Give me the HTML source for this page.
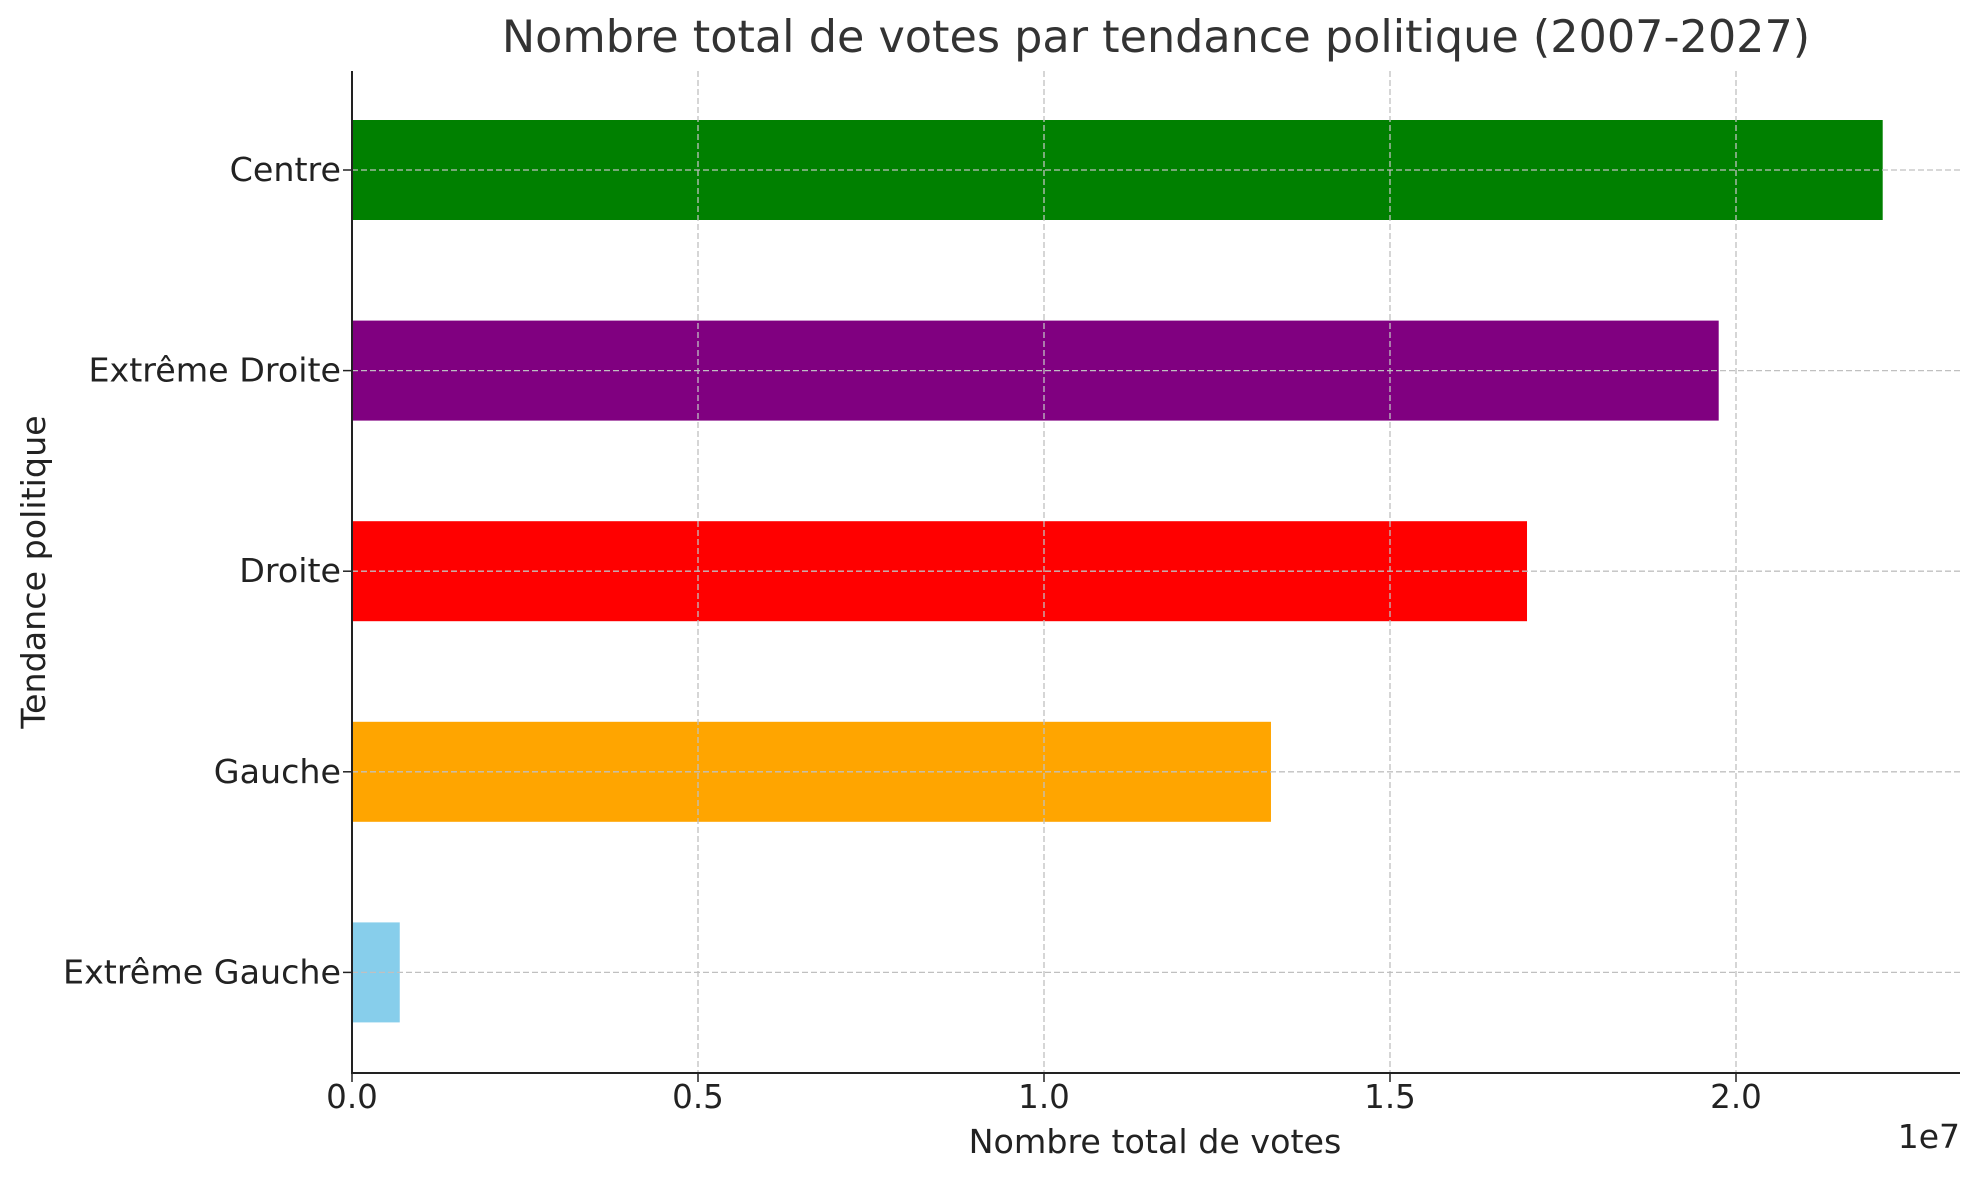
<!DOCTYPE html>
<html><head><meta charset="utf-8"><style>body{margin:0;background:#fff}svg{display:block;font-family:"DejaVu Sans","Liberation Sans",sans-serif}</style></head>
<body>
<svg id="chart" width="1979" height="1180" xmlns="http://www.w3.org/2000/svg">
<text x="1156" y="52" font-size="44.5" fill="#333" text-anchor="middle">Nombre total de votes par tendance politique (2007-2027)</text>
<text x="1155" y="1153" font-size="33.3" fill="#222" text-anchor="middle">Nombre total de votes</text>
<text transform="translate(45,572) rotate(-90)" font-size="33.3" fill="#222" text-anchor="middle">Tendance politique</text>
<text x="1960" y="1148" font-size="33" fill="#222" text-anchor="end">1e7</text>
<g id="grid"></g><g id="bars"></g><g id="axes"></g>
</svg>
<script>
const categories=["Centre","Extrême Droite","Droite","Gauche","Extrême Gauche"];
const values=[2.212e7,1.975e7,1.698e7,1.328e7,0.069e7];
const colors=["#008000","#800080","#ff0000","#ffa500","#87ceeb"];
const xTicks=[0,0.5e7,1.0e7,1.5e7,2.0e7];
const xTickLabels=["0.0","0.5","1.0","1.5","2.0"];
const NS="http://www.w3.org/2000/svg";
const L=352,R=1960,T=71,B=1073;
const x=v=>L+v*692/1e7;
const y=i=>170+i*200.6;
const bh=100;
function mk(t,a,p){const e=document.createElementNS(NS,t);for(const k in a)e.setAttribute(k,a[k]);p.appendChild(e);return e;}
const grid=document.getElementById('grid'),bars=document.getElementById('bars'),axes=document.getElementById('axes');
xTicks.forEach((v,i)=>{
 const g=mk('line',{x1:x(v),x2:x(v),y1:T,y2:B,stroke:'#c0c0c0','stroke-width':1.3,'stroke-dasharray':'6,3'},grid);
 
 
 const tk=mk('line',{x1:x(v),x2:x(v),y1:B,y2:B+9,stroke:'#222','stroke-width':1.5},axes);
 
 
 const t=mk('text',{x:x(v),y:1108,'font-size':32.5,fill:'#222','text-anchor':'middle'},axes);
 t.textContent=xTickLabels[i];
 
 
});
categories.forEach((c,i)=>{
 const b=mk('rect',{x:x(0),y:y(i)-bh/2,width:x(values[i])-x(0),height:bh,fill:colors[i]},bars);
 
 
 const g=mk('line',{x1:L,x2:R,y1:y(i),y2:y(i),stroke:'#c0c0c0','stroke-width':1.3,'stroke-dasharray':'6,3'},grid);
 
 
 const tk=mk('line',{x1:L-9,x2:L,y1:y(i),y2:y(i),stroke:'#222','stroke-width':1.5},axes);
 
 
 const t=mk('text',{x:L-11,y:y(i)+11,'font-size':33.3,fill:'#222','text-anchor':'end'},axes);
 t.textContent=c;
 
 
});
document.getElementById('chart').insertBefore(bars,grid);
const ya=mk('line',{x1:L,x2:L,y1:T,y2:B,stroke:'#222','stroke-width':2},axes);


const xa=mk('line',{x1:L-1,x2:R,y1:B,y2:B,stroke:'#222','stroke-width':2},axes);


</script>
</body></html>
